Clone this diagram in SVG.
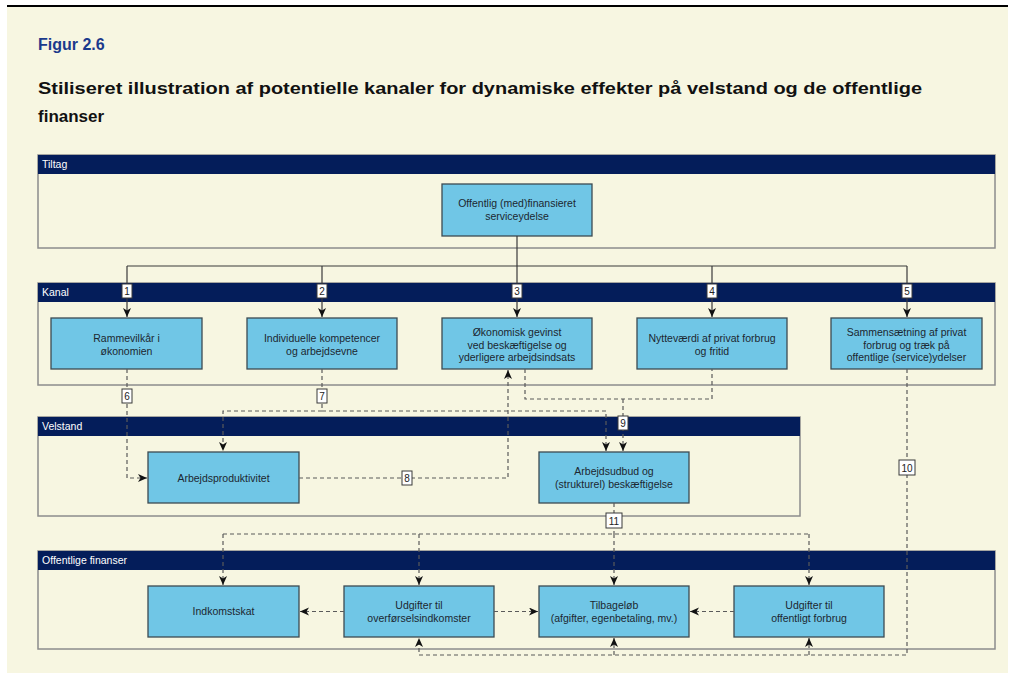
<svg xmlns="http://www.w3.org/2000/svg" width="1015" height="673" viewBox="0 0 1015 673">
<defs>
<marker id="ah" markerUnits="userSpaceOnUse" markerWidth="10" markerHeight="10" refX="9" refY="4" orient="auto">
<path d="M0,0 L9,4 L0,8 L2.5,4 z" fill="#111"/>
</marker>
<style>
.bar{fill:#041d5a}
.panel{fill:#f7f6e1;stroke:#8c8c8c;stroke-width:1.5}
.hdr{font-family:"Liberation Sans",Arial,sans-serif;font-size:10.5px;fill:#ffffff}
.node rect{fill:#70c6e6;stroke:#3c4a52;stroke-width:1.3}
.node text{font-family:"Liberation Sans",Arial,sans-serif;font-size:10.5px;fill:#1c2630;text-anchor:middle}
.solid{fill:none;stroke:#3a3a3a;stroke-width:1.2}
.dash{fill:none;stroke:#5a5a5a;stroke-width:1.2;stroke-dasharray:4,3}
.lbl rect{fill:#ffffff;stroke:#3a3a3a;stroke-width:1}
.lbl text{font-family:"Liberation Sans",Arial,sans-serif;font-size:10px;fill:#222;text-anchor:middle}
.ttl{font-family:"Liberation Sans",Arial,sans-serif;font-weight:bold}
</style>
</defs>
<rect x="0" y="0" width="1015" height="673" fill="#ffffff"/>
<rect x="7" y="7" width="1001" height="666" fill="#f7f6e1"/>
<line x1="7" y1="6" x2="1008" y2="6" stroke="#000" stroke-width="2"/>
<text class="ttl" x="38" y="50" font-size="16" fill="#1b3a8c">Figur 2.6</text>
<text class="ttl" x="38" y="94" font-size="17" fill="#111" textLength="884" lengthAdjust="spacingAndGlyphs">Stiliseret illustration af potentielle kanaler for dynamiske effekter på velstand og de offentlige</text>
<text class="ttl" x="38" y="122" font-size="17" fill="#111">finanser</text>

<g id="panel-tiltag">
<rect class="panel" x="38" y="155" width="957" height="93"/>
<rect class="bar" x="38" y="155" width="957" height="19"/>
<text class="hdr" x="42" y="168">Tiltag</text>
</g>
<g id="panel-kanal">
<rect class="panel" x="38" y="283" width="957" height="102"/>
<rect class="bar" x="38" y="283" width="957" height="19"/>
<text class="hdr" x="42" y="296">Kanal</text>
</g>
<g id="panel-velstand">
<rect class="panel" x="38" y="417" width="762" height="99"/>
<rect class="bar" x="38" y="417" width="762" height="19"/>
<text class="hdr" x="42" y="430">Velstand</text>
</g>
<g id="panel-finanser">
<rect class="panel" x="38" y="551" width="957" height="98"/>
<rect class="bar" x="38" y="551" width="957" height="19"/>
<text class="hdr" x="42" y="564">Offentlige finanser</text>
</g>

<g id="n-tiltag" class="node"><rect x="442" y="184" width="150" height="52"/><text x="517" y="207">Offentlig (med)finansieret</text><text x="517" y="220">serviceydelse</text></g>
<g id="n-k1" class="node"><rect x="51" y="318" width="151" height="51"/><text x="126.5" y="342">Rammevilkår i</text><text x="126.5" y="355">økonomien</text></g>
<g id="n-k2" class="node"><rect x="247" y="318" width="150" height="51"/><text x="322" y="342">Individuelle kompetencer</text><text x="322" y="355">og arbejdsevne</text></g>
<g id="n-k3" class="node"><rect x="442" y="318" width="150" height="51"/><text x="517" y="336">Økonomisk gevinst</text><text x="517" y="348.5">ved beskæftigelse og</text><text x="517" y="361">yderligere arbejdsindsats</text></g>
<g id="n-k4" class="node"><rect x="637" y="318" width="150" height="51"/><text x="712" y="342">Nytteværdi af privat forbrug</text><text x="712" y="355">og fritid</text></g>
<g id="n-k5" class="node"><rect x="831" y="318" width="151" height="51"/><text x="906.5" y="336">Sammensætning af privat</text><text x="906.5" y="348.5">forbrug og træk på</text><text x="906.5" y="361">offentlige (service)ydelser</text></g>
<g id="n-v1" class="node"><rect x="148" y="452" width="151" height="51"/><text x="223.5" y="481.5">Arbejdsproduktivitet</text></g>
<g id="n-v2" class="node"><rect x="539" y="452" width="150" height="51"/><text x="614" y="475">Arbejdsudbud og</text><text x="614" y="488">(strukturel) beskæftigelse</text></g>
<g id="n-f1" class="node"><rect x="148" y="586" width="151" height="51"/><text x="223.5" y="615">Indkomstskat</text></g>
<g id="n-f2" class="node"><rect x="344" y="586" width="150" height="51"/><text x="419" y="609">Udgifter til</text><text x="419" y="622">overførselsindkomster</text></g>
<g id="n-f3" class="node"><rect x="539" y="586" width="150" height="51"/><text x="614" y="609">Tilbageløb</text><text x="614" y="622">(afgifter, egenbetaling, mv.)</text></g>
<g id="n-f4" class="node"><rect x="734" y="586" width="150" height="51"/><text x="809" y="609">Udgifter til</text><text x="809" y="622">offentligt forbrug</text></g>

<g id="connectors">
<path class="solid" d="M127,266 H907"/>
<path class="solid" d="M517,236 V317" marker-end="url(#ah)"/>
<path class="solid" d="M127,266 V317" marker-end="url(#ah)"/>
<path class="solid" d="M322,266 V317" marker-end="url(#ah)"/>
<path class="solid" d="M712,266 V317" marker-end="url(#ah)"/>
<path class="solid" d="M907,266 V317" marker-end="url(#ah)"/>
<path class="dash" d="M127,369 V478 H147" marker-end="url(#ah)"/>
<path class="dash" d="M322,369 V411 H223 V451" marker-end="url(#ah)"/>
<path class="dash" d="M322,411 H606 V451" marker-end="url(#ah)"/>
<path class="dash" d="M525,369 V399 H712 V369"/>
<path class="dash" d="M623,399 V451" marker-end="url(#ah)"/>
<path class="dash" d="M299,478 H508 V370" marker-end="url(#ah)"/>
<path class="dash" d="M907,369 V655 H419 V638" marker-end="url(#ah)"/>
<path class="dash" d="M614,655 V638" marker-end="url(#ah)"/>
<path class="dash" d="M809,655 V638" marker-end="url(#ah)"/>
<path class="dash" d="M614,503 V534"/>
<path class="dash" d="M223,534 H809"/>
<path class="dash" d="M223,534 V585" marker-end="url(#ah)"/>
<path class="dash" d="M419,534 V585" marker-end="url(#ah)"/>
<path class="dash" d="M614,534 V585" marker-end="url(#ah)"/>
<path class="dash" d="M809,534 V585" marker-end="url(#ah)"/>
<path class="dash" d="M344,611.5 H300" marker-end="url(#ah)"/>
<path class="dash" d="M494,611.5 H538" marker-end="url(#ah)"/>
<path class="dash" d="M734,611.5 H690" marker-end="url(#ah)"/>
</g>

<g id="labels">
<g class="lbl"><rect x="122" y="284" width="10" height="14"/><text x="127" y="295">1</text></g>
<g class="lbl"><rect x="317" y="284" width="10" height="14"/><text x="322" y="295">2</text></g>
<g class="lbl"><rect x="512" y="284" width="10" height="14"/><text x="517" y="295">3</text></g>
<g class="lbl"><rect x="707" y="284" width="10" height="14"/><text x="712" y="295">4</text></g>
<g class="lbl"><rect x="902" y="284" width="10" height="14"/><text x="907" y="295">5</text></g>
<g class="lbl"><rect x="122" y="389" width="10" height="14"/><text x="127" y="400">6</text></g>
<g class="lbl"><rect x="317" y="389" width="10" height="14"/><text x="322" y="400">7</text></g>
<g class="lbl"><rect x="402" y="471" width="10" height="14"/><text x="407" y="482">8</text></g>
<g class="lbl"><rect x="618" y="416" width="10" height="14"/><text x="623" y="427">9</text></g>
<g class="lbl"><rect x="899" y="460" width="16" height="15"/><text x="907" y="471.5">10</text></g>
<g class="lbl"><rect x="606" y="513" width="16" height="15"/><text x="614" y="524.5">11</text></g>
</g>
</svg>
